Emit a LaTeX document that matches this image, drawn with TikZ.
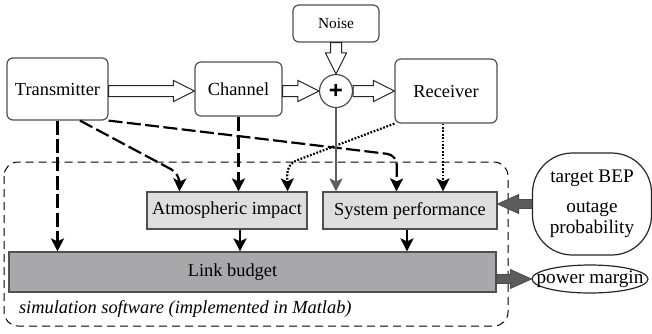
\documentclass[tikz,border=0pt]{standalone}
\usepackage{fontspec}
\setmainfont{Liberation Serif}
\newfontfamily\plusfont{Liberation Sans}
\usepackage{tikz}
\usetikzlibrary{arrows.meta,calc,shapes.geometric}
\definecolor{edgegrey}{HTML}{505050}
\definecolor{simgrey}{HTML}{DEDEDE}
\definecolor{budgetgrey}{HTML}{A8A8AA}
\definecolor{blockgrey}{HTML}{5C5C5C}
\definecolor{feedgrey}{HTML}{5E5E5E}

\tikzset{
  txbox/.style={draw=edgegrey,line width=0.6pt,rounded corners=3pt,fill=white,inner sep=0pt},
  simbox/.style={draw=edgegrey,line width=0.6pt,fill=simgrey,inner sep=0pt,minimum height=18.5pt},
  budgetbox/.style={draw=edgegrey,line width=0.6pt,fill=budgetgrey,inner sep=0pt},
  fatarrow/.style n args={3}{to path={
    let \p1=(\tikztostart), \p2=(\tikztotarget), \p3=($(\p2)!#3!(\p1)$) in
    ($(\p1)!#1!90:(\p2)$) -- ($(\p3)!#1!-90:(\p1)$) -- ($(\p3)!#2!-90:(\p1)$) -- (\p2)
    -- ($(\p3)!#2!90:(\p1)$) -- ($(\p3)!#1!90:(\p1)$) -- ($(\p1)!#1!-90:(\p2)$) -- cycle}},
  hollowarrow/.style={draw=black!85,line width=0.5pt,fill=white,fatarrow={2.75pt}{5.25pt}{10.5pt}},
  greyarrow/.style={draw=black!70,line width=0.4pt,fill=blockgrey,fatarrow={2.25pt}{4.75pt}{10.5pt}},
  linksolid/.style={-{Stealth[length=6.5pt,width=6.5pt,inset=1.5pt]},line width=1.1pt},
  linkdash/.style={linksolid,dash pattern=on 7pt off 2.2pt},
  linkdot/.style={linksolid,dash pattern=on 0.9pt off 0.8pt},
}

\begin{document}
\begin{tikzpicture}[x=0.5pt,y=-0.5pt,font=\fontsize{9.2}{11}\selectfont]
\useasboundingbox (0,0) rectangle (652,333);

\draw[line width=0.5pt,dash pattern=on 4pt off 2.5pt,rounded corners=7pt] (4,162) rectangle (508,326);
\node[anchor=base west,font=\fontsize{9.2}{11}\selectfont\itshape] (simtext) at (12,313) {simulation software (implemented in Matlab)};

\node[txbox,minimum width=50.5pt,minimum height=31pt] (tx) at (57.5,89) {Transmitter};
\node[txbox,minimum width=43.5pt,minimum height=27pt] (ch) at (238.5,89) {Channel};
\node[txbox,minimum width=43pt,minimum height=18.5pt,font=\fontsize{7.7}{9}\selectfont] (nz) at (336,23.5) {Noise};
\node[circle,draw=edgegrey,line width=0.6pt,fill=white,minimum size=16.5pt,inner sep=0pt,font=\plusfont\bfseries\fontsize{12}{12}\selectfont] (pl) at (336,91) {+};
\node[txbox,minimum width=51pt,minimum height=32pt] (rx) at (446,91) {Receiver};

\node[simbox,minimum width=80pt] (ai) at (227,210.5) {Atmospheric impact};
\node[simbox,minimum width=87pt] (sp) at (410,210.5) {System performance};
\node[budgetbox,minimum width=243.5pt,minimum height=20pt,label={[xshift=-10pt]center:Link budget}] (lb) at (252.5,272) {};

\node[draw=black!85,line width=0.6pt,rounded corners=20pt,minimum width=59.5pt,minimum height=51pt,inner sep=0pt,align=center,font=\fontsize{9.6}{10.5}\selectfont] (tb) at (592,204) {target BEP\\[4.5pt]outage\\probability};
\node[ellipse,draw=black!85,line width=0.6pt,inner xsep=-8pt,inner ysep=0pt,minimum width=58pt,minimum height=14pt,font=\fontsize{9.6}{11}\selectfont] (pm) at (590,279) {power margin};

\draw[hollowarrow] (tx.east |- pl.west) to (ch.west |- pl.west);
\draw[hollowarrow] (ch.east |- pl.west) to (pl.west);
\draw[hollowarrow] (nz.south) to (pl.north);
\draw[hollowarrow] (pl.east) to (rx.west);

\draw[greyarrow] (tb.west) to (tb.west -| sp.east);
\draw[greyarrow] (lb.east |- pm.west) to (pm.west);

\draw[linkdash] (tx.south) -- (tx.south |- lb.north);
\draw[linkdash,rounded corners=5pt] ($(tx.south west)!0.72!(tx.south east)$) -- (180,174) -- ($(ai.north west)+(33,0)$);
\draw[linkdash,rounded corners=5pt] (tx.south east) -- (397,155) -- ($(sp.north west)+(74,0)$);
\draw[linkdash] (ch.south) -- (ch.south |- ai.north);
\draw[linkdot,rounded corners=5pt] (rx.south west) -- (287,164) -- ($(ai.north east)+(-20,0)$);
\draw[linksolid,feedgrey] (pl.south) -- (pl.south |- sp.north);
\coordinate (rxout) at ($(rx.south)+(-3,0)$);
\draw[linkdot] (rxout) -- (rxout |- sp.north);

\coordinate (aiout) at ($(ai.south)+(13,0)$);
\coordinate (spout) at ($(sp.south)+(-3,0)$);
\draw[linksolid] (aiout) -- (aiout |- lb.north);
\draw[linksolid] (spout) -- (spout |- lb.north);
\end{tikzpicture}
\end{document}
